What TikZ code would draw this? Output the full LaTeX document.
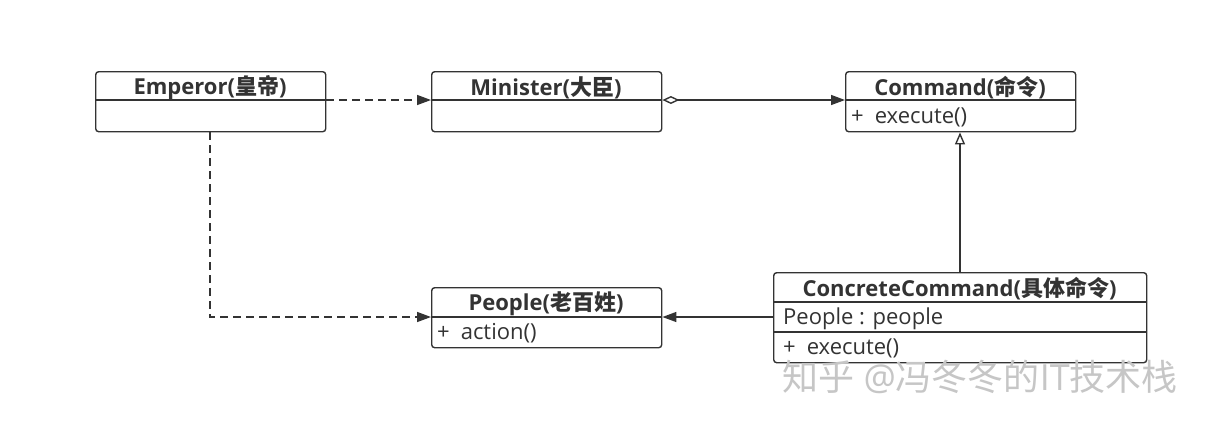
\documentclass[tikz,border=0pt]{standalone}
\usepackage{fontspec}
\setmainfont{Open Sans}
\newfontfamily\cjk{Noto Sans CJK SC}
\usetikzlibrary{arrows.meta}
\definecolor{ink}{HTML}{333333}
\tikzset{
  box/.style={draw=ink, line width=1.4pt, rounded corners=3pt, anchor=north west, inner sep=0pt},
  ttl/.style={text=ink, font=\fontsize{22}{24}\selectfont\bfseries, inner sep=0pt},
  mem/.style={text=ink, font=\fontsize{22}{24}\selectfont, inner sep=0pt, anchor=west},
  sep/.style={draw=ink, line width=1.4pt},
  conn/.style={draw=ink, line width=1.4pt},
  filledtip/.style={-{Triangle[length=14pt,width=10pt]}},
}
\begin{document}
\begin{tikzpicture}[x=1pt,y=-1pt]
\useasboundingbox (0,0) rectangle (1208,424);
\fill[white] (0,0) rectangle (1208,424);
% boxes
\node[box, minimum width=230pt, minimum height=60pt] (emp) at (95,71) {};
\node[box, minimum width=230pt, minimum height=60pt] (min) at (431,71) {};
\node[box, minimum width=230pt, minimum height=60pt] (cmd) at (845,71) {};
\node[box, minimum width=230pt, minimum height=60pt] (peo) at (431,287) {};
\node[box, minimum width=373pt, minimum height=90pt] (con) at (773,272) {};
% dividers
\coordinate (d1) at (0,100);
\coordinate (d2) at (0,317);
\coordinate (d3) at (0,302);
\coordinate (d4) at (0,332);
\draw[sep] (emp.west |- d1) -- (emp.east |- d1);
\draw[sep] (min.west |- d1) -- (min.east |- d1);
\draw[sep] (cmd.west |- d1) -- (cmd.east |- d1);
\draw[sep] (peo.west |- d2) -- (peo.east |- d2);
\draw[sep] (con.west |- d3) -- (con.east |- d3);
\draw[sep] (con.west |- d4) -- (con.east |- d4);
% texts
\node[ttl] (empt) at (210,88) {Emperor({\cjk 皇帝})};
\node[ttl] (mint) at (546,88) {Minister({\cjk 大臣})};
\node[ttl] (cmdt) at (960,88) {Command({\cjk 命令})};
\node[mem] (cmdm) at (851,117.5) {+\hspace{0.5em}execute()};
\node[ttl] (peot) at (546,304) {People({\cjk 老百姓})};
\node[mem] (peom) at (437,333.5) {+\hspace{0.5em}action()};
\node[ttl] (cont) at (959.5,289) {ConcreteCommand({\cjk 具体命令})};
\node[mem] (cona) at (783,318.5) {People : people};
\node[mem] (conm) at (783,348.5) {+\hspace{0.5em}execute()};
% connectors
\coordinate (empbend) at (210,317);
\draw[conn, dashed, dash pattern=on 8pt off 5pt, filledtip] (emp.east |- d1) -- (min.west |- d1);
\draw[conn, {Diamond[open,length=17pt,width=8pt]}-{Triangle[length=14pt,width=10pt]}] (min.east |- d1) -- (cmd.west |- d1);
\draw[conn, -{Triangle[open,length=12pt,width=10pt]}] (con.north -| cmdt) -- (cmd.south -| cmdt);
\draw[conn, filledtip] (con.west |- d2) -- (peo.east |- d2);
\draw[conn, dashed, dash pattern=on 8pt off 5pt, filledtip] (emp.south -| empt) -- (empbend) -- (peo.west |- d2);
% watermark
\node[text=gray!45, font=\fontsize{36}{38}\selectfont, anchor=west, inner sep=0pt] (wm) at (782,377) {{\cjk 知乎} @{\cjk 冯冬冬的}IT{\cjk 技术栈}};
\end{tikzpicture}
\end{document}
